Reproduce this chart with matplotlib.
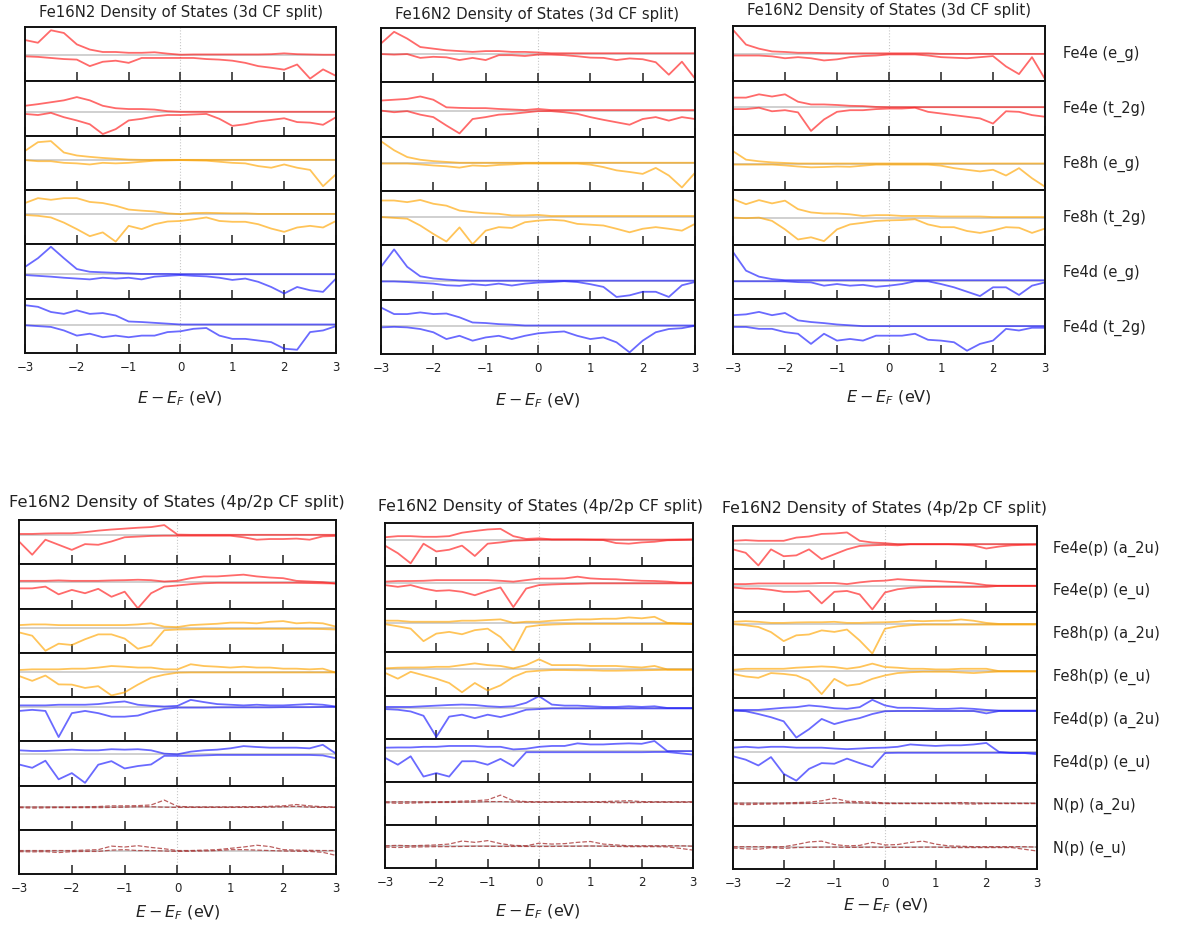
import numpy as np
import matplotlib
matplotlib.use("Agg")
import matplotlib.pyplot as plt

# ---------------- data ----------------
energy = np.linspace(-3, 3, 25)  # E - E_F grid (eV)

top_labels = ["Fe4e (e_g)", "Fe4e (t_2g)", "Fe8h (e_g)", "Fe8h (t_2g)", "Fe4d (e_g)", "Fe4d (t_2g)"]
bot_labels = ["Fe4e(p) (a_2u)", "Fe4e(p) (e_u)", "Fe8h(p) (a_2u)", "Fe8h(p) (e_u)",
              "Fe4d(p) (a_2u)", "Fe4d(p) (e_u)", "N(p) (a_2u)", "N(p) (e_u)"]
top_colors = ["red", "red", "orange", "orange", "blue", "blue"]
bot_colors = ["red", "red", "orange", "orange", "blue", "blue", "brown", "brown"]
title_3d = "Fe16N2 Density of States (3d CF split)"
title_4p = "Fe16N2 Density of States (4p/2p CF split)"

# ---- top-left panel (3d) ----
tl_eg4e_up = [2.8,2.3,4.6,4.1,2.0,1.05,0.6,0.6,0.45,0.45,0.55,0.3,0.1,0.15,0.15,0.15,0.15,0.15,0.15,0.2,0.35,0.2,0.15,0.1,0.1]
tl_eg4e_dn = [-0.2,-0.3,-0.5,-0.7,-0.8,-2.0,-1.2,-1.0,-1.4,-0.5,-0.5,-0.5,-0.5,-0.5,-0.7,-0.8,-1.0,-1.4,-2.0,-2.3,-2.65,-1.7,-4.3,-2.6,-3.8]
tl_t2g4e_up = [1.2,1.5,1.85,2.2,2.8,2.2,1.2,0.75,0.6,0.6,0.5,0.2,0.1,0.1,0.1,0.1,0.1,0.1,0.1,0.1,0.1,0.1,0.1,0.1,0.1]
tl_t2g4e_dn = [-0.3,-0.5,-0.1,-0.9,-1.5,-2.2,-4.0,-3.1,-1.5,-1.2,-0.75,-0.5,-0.5,-0.4,-0.3,-1.2,-2.5,-2.2,-1.7,-1.4,-1.1,-1.8,-1.9,-2.3,-0.9]
tl_eg8h_up = [1.7,3.3,3.5,1.4,0.85,0.6,0.4,0.25,0.1,0.05,0.05,0.05,0.05,0.05,0.05,0.05,0.05,0.05,0.05,0.05,0.05,0.05,0.05,0.05,0.05]
tl_eg8h_dn = [0.0,-0.2,-0.2,-0.5,-0.6,-0.8,-0.5,-0.6,-0.5,-0.3,-0.1,-0.05,0.0,-0.05,-0.1,-0.3,-0.5,-0.6,-1.1,-1.4,-0.8,-1.4,-1.8,-4.8,-2.6]
tl_t2g8h_up = [2.1,3.0,2.7,3.0,3.0,2.3,2.1,1.6,0.9,0.7,0.55,0.2,0.05,0.25,0.3,0.25,0.2,0.2,0.1,0.1,0.1,0.1,0.1,0.1,0.1]
tl_t2g8h_dn = [-0.1,-0.25,-0.55,-1.5,-2.7,-4.0,-3.3,-5.0,-2.1,-2.7,-1.8,-1.3,-1.2,-0.9,-0.55,-1.2,-1.35,-1.35,-1.8,-2.6,-3.2,-2.4,-2.1,-2.4,-1.2]
tl_eg4d_up = [1.4,3.0,5.1,3.0,1.0,0.5,0.4,0.3,0.2,0.1,0.1,0.1,0.05,0.05,0.05,0.05,0.05,0.05,0.05,0.05,0.05,0.05,0.05,0.05,0.05]
tl_eg4d_dn = [-0.1,-0.25,-0.4,-0.6,-0.75,-0.9,-0.6,-0.75,-0.6,-0.9,-0.4,-0.25,-0.1,-0.25,-0.35,-0.6,-1.0,-0.75,-1.35,-2.3,-3.5,-2.3,-2.9,-3.2,-0.75]
tl_t2g4d_up = [3.6,3.3,2.35,2.0,2.65,2.0,2.15,1.7,0.6,0.5,0.35,0.2,0.05,0.05,0.05,0.05,0.05,0.05,0.05,0.05,0.05,0.05,0.05,0.05,0.05]
tl_t2g4d_dn = [-0.1,-0.25,-0.4,-1.05,-2.0,-1.65,-2.3,-2.0,-2.3,-2.0,-2.0,-1.35,-1.2,-0.75,-0.6,-2.0,-2.6,-2.6,-2.9,-3.2,-4.4,-4.6,-1.35,-1.05,-0.25]
tl_zero = [4.8, 4.3, 5.5, 5.5, 4.45, 5.2]

# ---- top-middle panel (3d) ----
tm_eg4e_up = [1.85,4.0,2.75,1.2,0.9,0.6,0.45,0.3,0.45,0.45,0.3,0.3,0.2,0.05,0.05,0.05,0.05,0.05,0.05,0.05,0.05,0.05,0.05,0.05,0.05]
tm_eg4e_dn = [-0.1,-0.2,-0.1,-0.8,-0.6,-0.7,-1.2,-0.8,-1.2,-0.3,-0.3,-0.45,-0.2,-0.2,-0.3,-0.5,-0.75,-0.8,-1.2,-0.9,-1.05,-1.6,-3.9,-1.5,-4.6]
tm_t2g4e_up = [1.85,2.0,2.15,2.6,2.0,0.6,0.5,0.45,0.45,0.3,0.2,0.1,0.3,0.1,0.1,0.1,0.1,0.1,0.1,0.1,0.1,0.1,0.1,0.1,0.1]
tm_t2g4e_dn = [0.0,-0.3,-0.1,-0.75,-1.2,-2.75,-4.2,-1.55,-1.2,-0.75,-0.6,-0.35,-0.1,-0.1,-0.3,-0.6,-1.2,-1.7,-2.15,-2.6,-1.55,-1.2,-1.85,-1.2,-1.55]
tm_eg8h_up = [4.0,2.35,1.1,0.6,0.35,0.2,0.05,0.05,0.05,0.05,0.05,0.05,0.05,0.05,0.05,0.05,0.05,0.05,0.05,0.05,0.05,0.05,0.05,0.05,0.05]
tm_eg8h_dn = [-0.1,-0.1,-0.1,-0.25,-0.45,-0.6,-0.85,-0.45,-0.55,-0.35,-0.25,-0.1,-0.1,-0.1,-0.1,-0.1,-0.3,-0.75,-1.35,-1.65,-2.0,-0.9,-2.3,-4.5,-1.8]
tm_t2g8h_up = [2.95,2.95,2.65,3.05,2.35,2.0,1.1,0.8,0.6,0.5,0.2,0.2,0.3,0.1,0.1,0.1,0.1,0.1,0.1,0.1,0.1,0.1,0.1,0.1,0.1]
tm_t2g8h_dn = [-0.1,-0.25,-0.4,-1.65,-3.2,-4.6,-2.0,-5.1,-2.6,-1.95,-2.1,-1.05,-0.75,-0.6,-0.75,-1.35,-1.5,-1.65,-2.25,-2.9,-2.25,-1.95,-2.25,-2.6,-1.35]
tm_eg4d_up = [2.6,5.8,2.6,0.85,0.45,0.25,0.1,0.05,0.05,0.05,0.05,0.05,0.05,0.05,0.05,0.05,0.05,0.05,0.05,0.05,0.05,0.05,0.05,0.05,0.05]
tm_eg4d_dn = [-0.1,-0.1,-0.2,-0.35,-0.5,-0.8,-0.9,-0.6,-0.8,-0.5,-0.85,-0.5,-0.3,-0.2,-0.05,-0.2,-0.6,-1.1,-2.95,-2.65,-2.0,-2.0,-2.95,-0.8,-0.2]
tm_t2g4d_up = [3.35,2.15,2.15,2.45,2.15,2.25,1.55,0.6,0.5,0.3,0.2,0.05,0.05,0.05,0.05,0.05,0.05,0.05,0.05,0.05,0.05,0.05,0.05,0.05,0.05]
tm_t2g4d_dn = [-0.3,-0.2,-0.3,-0.6,-1.2,-2.45,-1.85,-2.75,-2.15,-1.85,-2.45,-1.85,-1.4,-1.2,-1.05,-1.85,-2.45,-2.15,-3.05,-4.9,-2.75,-1.2,-0.6,-0.45,0.0]
tm_zero = [5.3, 4.8, 5.15, 5.3, 3.45, 5.2]

# ---- top-right panel (3d) ----
tr_eg4e_up = [4.5,1.8,1.05,0.55,0.45,0.3,0.3,0.25,0.2,0.2,0.2,0.2,0.2,0.2,0.2,0.2,0.1,0.1,0.1,0.1,0.1,0.1,0.1,0.1,0.1]
tr_eg4e_dn = [-0.2,-0.2,-0.2,-0.35,-0.7,-0.5,-0.7,-1.1,-0.9,-0.5,-0.3,-0.2,0.0,0.0,0.0,-0.2,-0.5,-0.6,-0.7,-0.5,-0.3,-2.2,-3.6,-0.5,-4.5]
tr_t2g4e_up = [1.8,1.8,2.4,2.0,2.4,1.05,0.55,0.55,0.45,0.3,0.25,0.1,0.05,0.05,0.05,0.05,0.05,0.05,0.05,0.05,0.05,0.05,0.05,0.05,0.05]
tr_t2g4e_dn = [-0.3,-0.3,-0.05,-0.7,-0.5,-0.9,-4.3,-2.2,-0.8,-0.5,-0.5,-0.3,-0.2,-0.2,-0.05,-0.8,-1.1,-1.4,-1.7,-2.0,-2.95,-0.7,-0.8,-1.4,-1.7]
tr_eg8h_up = [2.35,0.8,0.5,0.3,0.2,0.1,0.1,0.1,0.1,0.1,0.1,0.1,0.1,0.1,0.1,0.1,0.1,0.1,0.1,0.1,0.1,0.1,0.1,0.1,0.1]
tr_eg8h_dn = [-0.1,-0.1,-0.1,-0.1,-0.25,-0.45,-0.6,-0.55,-0.45,-0.5,-0.3,-0.1,-0.1,-0.1,-0.1,-0.1,-0.3,-0.75,-1.05,-1.35,-1.05,-2.1,-0.75,-2.6,-4.15]
tr_t2g8h_up = [3.4,2.45,3.2,2.6,3.1,1.55,0.95,0.75,0.75,0.6,0.3,0.45,0.45,0.3,0.3,0.3,0.2,0.2,0.2,0.2,0.1,0.1,0.1,0.1,0.1]
tr_t2g8h_dn = [0.0,-0.1,0.0,-0.6,-2.15,-4.0,-3.6,-4.3,-2.15,-1.25,-0.95,-0.6,-0.5,-0.45,-0.3,-1.25,-1.75,-1.75,-2.45,-2.8,-2.35,-1.75,-1.85,-2.8,-2.0]
tr_eg4d_up = [5.25,1.85,0.75,0.3,0.1,0.1,0.1,0.1,0.1,0.1,0.1,0.1,0.1,0.1,0.1,0.1,0.1,0.1,0.1,0.1,0.1,0.1,0.1,0.1,0.1]
tr_eg4d_dn = [-0.1,-0.1,-0.1,-0.1,-0.1,-0.25,-0.3,-0.9,-0.6,-0.9,-0.75,-1.1,-0.9,-0.6,-0.1,-0.1,-0.6,-1.2,-2.0,-2.8,-1.2,-1.2,-2.6,-0.9,-0.3]
tr_t2g4d_up = [2.05,2.2,2.65,2.05,2.45,1.1,0.8,0.6,0.35,0.2,0.05,0.05,0.05,0.05,0.05,0.05,0.05,0.05,0.05,0.05,0.05,0.05,0.05,0.05,0.05]
tr_t2g4d_dn = [-0.1,-0.1,-0.45,-0.45,-1.05,-1.35,-3.2,-1.35,-2.6,-2.3,-2.6,-1.7,-1.7,-1.7,-1.35,-2.45,-2.6,-2.9,-4.45,-3.2,-2.6,-0.45,-0.75,-0.25,-0.25]
tr_zero = [4.8, 5.1, 4.75, 4.95, 3.4, 5.05]

# ---- bottom-left panel (4p/2p) ----
bl_a2u4e_up = [0.3,0.3,0.4,0.45,0.45,0.7,1.05,1.3,1.5,1.7,1.85,2.3,0.15,0.1,0.1,0.1,0.1,0.1,0.1,0.1,0.1,0.1,0.1,0.1,0.1]
bl_a2u4e_dn = [-1.4,-4.4,-1.0,-2.15,-3.3,-2.0,-2.15,-1.4,-0.45,-0.3,-0.15,-0.1,-0.1,-0.1,-0.1,-0.1,-0.1,-0.45,-1.0,-0.85,-0.85,-0.75,-1.0,-0.25,-0.15]
bl_eu4e_up = [0.3,0.3,0.3,0.4,0.3,0.3,0.3,0.4,0.45,0.55,0.45,0.15,0.3,0.9,1.3,1.3,1.5,1.7,1.3,1.05,0.9,0.3,0.15,0.0,-0.3]
bl_eu4e_dn = [-1.4,-1.4,-1.0,-2.75,-1.75,-2.5,-1.5,-3.3,-2.15,-5.9,-2.5,-1.0,-0.75,-0.45,-0.25,-0.15,-0.15,-0.15,-0.15,-0.15,-0.15,-0.15,-0.2,-0.25,-0.3]
bl_a2u8h_up = [0.6,0.75,0.75,0.6,0.6,0.6,0.6,0.6,0.6,0.75,1.0,0.25,0.15,0.6,0.75,0.9,1.15,1.15,1.0,1.35,1.5,1.0,1.15,1.0,0.25]
bl_a2u8h_dn = [-1.05,-1.8,-5.2,-3.6,-3.9,-2.6,-1.5,-1.5,-2.45,-4.75,-4.0,-0.55,-0.4,-0.35,-0.3,-0.3,-0.25,-0.25,-0.25,-0.25,-0.25,-0.25,-0.25,-0.3,-0.4]
bl_eu8h_up = [0.45,0.6,0.6,0.6,0.75,0.75,1.0,1.35,1.2,1.0,1.0,0.6,0.6,1.75,1.35,1.2,1.0,1.2,1.0,1.0,0.75,0.75,0.6,0.75,-0.15]
bl_eu8h_dn = [-0.9,-2.0,-0.8,-2.8,-2.85,-3.6,-3.2,-5.3,-4.6,-2.85,-1.3,-0.6,-0.15,-0.1,-0.1,-0.1,-0.1,-0.1,-0.1,-0.1,-0.1,-0.1,-0.1,-0.1,-0.1]
bl_a2u4d_up = [0.25,0.25,0.25,0.4,0.4,0.4,0.55,0.9,1.15,0.4,0.15,0.0,0.15,1.5,1.0,0.55,0.4,0.25,0.4,0.25,0.25,0.4,0.55,0.4,0.0]
bl_a2u4d_dn = [-1.0,-0.75,-1.0,-6.9,-1.5,-1.0,-1.5,-2.3,-2.3,-2.05,-1.15,-0.55,-0.25,-0.25,-0.25,-0.2,-0.2,-0.2,-0.2,-0.2,-0.15,-0.15,-0.15,-0.1,-0.1]
bl_eu4d_up = [0.75,0.6,0.6,0.75,0.9,0.75,0.75,1.0,0.9,1.0,0.75,0.0,-0.15,0.45,0.75,0.9,1.2,1.7,1.5,1.35,1.35,1.35,1.2,2.0,0.0]
bl_eu4d_dn = [-2.45,-3.2,-1.6,-5.8,-4.4,-6.6,-2.5,-1.7,-3.35,-2.8,-2.45,-0.5,-0.5,-0.5,-0.4,-0.3,-0.3,-0.3,-0.3,-0.3,-0.3,-0.3,-0.3,-0.4,-1.05]
bl_a2uN_up = [0.05,0.05,0.05,0.05,0.05,0.1,0.15,0.3,0.3,0.35,0.5,1.6,0.2,0.05,0.05,0.05,0.05,0.1,0.1,0.2,0.3,0.6,0.3,0.1,0.05]
bl_a2uN_dn = [-0.1,-0.2,-0.15,-0.1,-0.1,-0.1,-0.1,-0.05,0.0,0.1,0.1,0.0,-0.05,-0.05,-0.05,-0.05,-0.05,-0.05,-0.05,0.0,0.1,0.2,0.0,-0.05,-0.05]
bl_euN_up = [0.1,0.1,0.1,0.1,0.1,0.2,0.3,1.1,0.9,1.2,0.8,0.5,0.1,0.1,0.2,0.3,0.6,0.9,1.3,1.0,0.3,0.2,0.15,0.1,0.1]
bl_euN_dn = [-0.15,-0.2,-0.15,-0.35,-0.15,-0.1,-0.1,0.2,0.3,0.1,0.1,0.0,-0.1,-0.05,0.0,0.1,0.3,0.3,0.2,0.1,0.0,-0.05,-0.1,-0.3,-1.0]
bl_zero = [6.55, 5.95, 5.65, 5.65, 7.85, 7.2, 5.1, 5.2]

# ---- bottom-middle panel (4p/2p) ----
bm_a2u4e_up = [0.55,0.8,0.8,0.65,0.65,0.8,1.6,2.0,2.35,2.5,0.8,0.15,0.3,0.05,0.05,0.05,0.05,0.05,0.0,0.0,0.0,0.0,0.0,0.05,0.05]
bm_a2u4e_dn = [-1.4,-3.15,-5.5,-0.95,-2.75,-2.35,-1.4,-3.8,-0.95,-0.65,-0.25,-0.15,0.0,0.0,0.0,0.0,-0.05,-0.1,-0.8,-0.95,-0.65,-0.5,-0.15,-0.1,0.0]
bm_eu4e_up = [0.25,0.4,0.4,0.45,0.6,0.6,0.6,0.6,0.6,0.45,0.25,0.6,0.95,0.95,1.0,1.4,1.0,0.85,0.8,0.6,0.45,0.4,0.25,0.0,0.0]
bm_eu4e_dn = [-0.55,-0.95,-0.55,-1.35,-1.9,-1.75,-2.1,-2.9,-1.9,-1.1,-5.65,-1.35,-0.55,-0.4,-0.3,-0.25,-0.15,-0.15,-0.15,-0.15,-0.15,-0.15,-0.15,-0.15,-0.15]
bm_a2u8h_up = [0.65,0.65,0.4,0.4,0.4,0.4,0.65,0.65,0.8,0.95,0.15,0.4,0.4,0.65,0.8,0.95,0.95,1.1,1.1,1.4,1.2,1.55,0.15,0.0,-0.15]
bm_a2u8h_dn = [-0.15,-0.65,-1.2,-4.1,-2.35,-1.95,-2.5,-1.55,-1.2,-3.15,-6.4,-0.8,-0.4,-0.25,-0.15,-0.1,-0.1,-0.1,-0.1,-0.1,-0.1,-0.1,-0.1,-0.1,-0.1]
bm_eu8h_up = [0.25,0.4,0.45,0.45,0.6,0.6,1.0,1.4,1.0,0.8,0.25,1.0,2.35,1.0,1.0,1.0,0.8,0.8,0.8,0.6,0.45,0.8,0.0,0.0,0.0]
bm_eu8h_dn = [-0.8,-2.15,-0.55,-1.35,-2.15,-3.15,-5.3,-3.15,-4.9,-3.7,-1.75,-0.55,-0.3,-0.15,-0.15,-0.2,-0.2,-0.3,-0.3,-0.25,-0.2,-0.15,-0.1,-0.1,-0.1]
bm_a2u4d_up = [0.25,0.25,0.25,0.4,0.55,0.7,0.8,0.7,0.4,0.25,0.4,1.2,2.75,0.8,0.55,0.55,0.4,0.25,0.25,0.4,0.25,0.4,0.0,0.0,0.0]
bm_a2u4d_dn = [-0.25,-0.4,-0.8,-1.8,-6.7,-2.0,-1.55,-2.35,-1.55,-2.1,-1.35,-0.4,-0.25,-0.1,-0.1,-0.1,-0.1,-0.1,-0.1,-0.1,-0.1,-0.1,-0.1,-0.1,-0.1]
bm_eu4d_up = [0.8,0.85,0.85,1.0,1.0,1.2,1.2,1.2,1.0,1.0,0.4,0.55,1.0,1.2,1.2,1.8,1.55,1.55,1.7,1.8,1.7,2.35,0.0,0.0,0.0]
bm_eu4d_dn = [-1.55,-3.15,-1.2,-5.9,-5.1,-5.9,-2.35,-2.35,-3.15,-1.8,-3.5,-0.25,-0.25,-0.25,-0.25,-0.25,-0.25,-0.25,-0.25,-0.25,-0.25,-0.2,-0.2,-0.5,-0.8]
bm_a2uN_up = [0.05,0.05,0.05,0.05,0.05,0.1,0.2,0.3,0.5,1.6,0.3,0.1,0.05,0.05,0.05,0.05,0.05,0.1,0.2,0.3,0.1,0.05,0.05,0.05,0.05]
bm_a2uN_dn = [-0.15,-0.3,-0.25,-0.15,-0.1,-0.1,-0.05,0.0,0.1,0.1,0.0,-0.05,-0.05,-0.05,-0.05,-0.05,-0.05,-0.1,-0.15,-0.15,-0.1,-0.05,-0.05,-0.05,-0.05]
bm_euN_up = [0.1,0.2,0.1,0.2,0.3,0.5,1.2,0.9,1.3,0.6,0.2,0.1,0.7,0.5,0.6,0.9,1.1,0.5,0.3,0.1,0.1,0.1,0.1,0.1,0.0]
bm_euN_dn = [-0.2,-0.3,-0.2,-0.15,-0.1,-0.1,-0.05,0.0,0.0,-0.05,-0.05,-0.05,-0.05,-0.05,0.0,0.0,0.05,0.0,-0.05,-0.1,-0.1,-0.1,-0.15,-0.5,-0.9]
bm_zero = [6.15, 6.15, 6.7, 6.05, 7.1, 7.1, 5.3, 5.05]

# ---- bottom-right panel (4p/2p) ----
br_a2u4e_up = [0.8,0.95,0.8,0.8,0.8,1.55,1.8,2.4,2.5,2.75,0.8,0.4,0.25,0.0,0.0,0.0,0.0,0.0,0.0,0.0,0.0,0.0,0.0,0.0,0.0]
br_a2u4e_dn = [-1.2,-2.0,-4.95,-1.2,-2.8,-2.6,-1.2,-3.5,-2.35,-1.2,-0.4,-0.25,-0.15,-0.25,0.0,0.0,0.0,0.0,-0.1,-0.3,-1.0,-0.55,-0.25,-0.15,-0.1]
br_eu4e_up = [0.4,0.4,0.55,0.55,0.55,0.55,0.55,0.65,0.65,0.4,0.8,1.1,1.2,1.55,1.35,1.2,1.1,0.95,0.8,0.55,0.15,0.0,0.0,0.0,0.0]
br_eu4e_dn = [-0.4,-0.65,-0.65,-0.95,-1.4,-1.4,-1.2,-4.1,-1.4,-1.2,-2.0,-5.5,-1.55,-0.8,-0.45,-0.3,-0.25,-0.25,-0.25,-0.25,-0.25,0.0,0.0,0.0,0.0]
br_a2u8h_up = [0.4,0.55,0.4,0.15,0.15,0.25,0.3,0.3,0.4,0.15,0.15,0.25,0.3,0.4,0.65,0.55,0.65,0.65,0.95,0.65,0.15,-0.1,-0.1,-0.1,-0.1]
br_a2u8h_dn = [-0.15,-0.4,-0.8,-2.0,-4.1,-2.75,-2.55,-1.6,-1.95,-1.4,-3.95,-7.0,-1.2,-0.65,-0.4,-0.25,-0.25,-0.25,-0.25,-0.25,-0.25,-0.25,-0.25,-0.25,-0.25]
br_eu8h_up = [0.3,0.55,0.55,0.55,0.55,0.8,0.95,1.1,0.95,0.55,0.95,1.75,0.95,0.8,0.55,0.55,0.4,0.4,0.55,0.55,0.55,0.0,0.0,0.0,0.0]
br_eu8h_dn = [-0.65,-1.25,-1.55,-0.45,-0.65,-1.0,-2.2,-5.35,-1.8,-3.4,-3.0,-1.8,-1.0,-0.45,-0.25,-0.15,-0.15,-0.15,-0.3,-0.45,-0.25,-0.1,-0.1,-0.1,-0.1]
br_a2u4d_up = [0.15,0.15,0.15,0.4,0.65,0.8,1.2,0.95,0.55,0.4,0.8,2.5,1.2,0.65,0.65,0.55,0.4,0.4,0.55,0.4,0.15,0.0,0.0,0.0,0.0]
br_a2u4d_dn = [0.0,-0.15,-0.8,-1.55,-2.5,-6.3,-4.35,-1.95,-3.15,-2.35,-1.75,-0.8,-0.15,-0.1,-0.1,-0.1,-0.1,-0.1,-0.1,-0.1,-0.65,-0.1,-0.1,-0.1,-0.1]
br_eu4d_up = [1.0,1.2,1.0,1.2,1.2,1.0,1.0,1.0,0.8,0.65,0.8,0.95,1.0,1.2,1.75,1.55,1.4,1.55,1.55,1.75,2.1,0.0,-0.25,-0.25,-0.55]
br_eu4d_dn = [-1.0,-1.8,-3.15,-1.2,-5.1,-6.7,-3.95,-2.6,-2.75,-1.55,-2.6,-3.55,-0.25,-0.2,-0.2,-0.2,-0.2,-0.2,-0.2,-0.2,-0.2,-0.2,-0.2,-0.2,-0.2]
br_a2uN_up = [0.05,0.05,0.05,0.05,0.1,0.2,0.3,0.6,1.2,0.5,0.4,0.3,0.1,0.05,0.05,0.05,0.05,0.1,0.2,0.1,0.05,0.05,0.05,0.05,0.05]
br_a2uN_dn = [-0.15,-0.3,-0.2,-0.15,-0.1,-0.05,0.0,0.0,0.1,0.2,0.1,0.0,-0.05,-0.05,-0.05,-0.05,-0.05,-0.05,-0.1,-0.15,-0.05,-0.05,-0.05,-0.05,-0.05]
br_euN_up = [0.1,0.1,0.1,0.1,0.1,0.6,1.2,1.4,0.6,0.3,0.4,1.1,0.5,0.6,1.1,1.4,0.7,0.3,0.2,0.1,0.1,0.1,0.1,0.1,0.0]
br_euN_dn = [-0.2,-0.4,-0.5,-0.1,-0.3,-0.1,-0.05,0.0,0.0,-0.05,-0.05,0.0,-0.05,-0.05,-0.05,0.0,0.0,-0.1,-0.1,-0.1,-0.1,-0.1,-0.1,-0.5,-0.9]
br_zero = [5.75, 6.05, 7.25, 6.15, 6.95, 7.3, 5.3, 5.1]

# ---------------- assemble ----------------
tl_curves = [(tl_eg4e_up, tl_eg4e_dn), (tl_t2g4e_up, tl_t2g4e_dn), (tl_eg8h_up, tl_eg8h_dn),
             (tl_t2g8h_up, tl_t2g8h_dn), (tl_eg4d_up, tl_eg4d_dn), (tl_t2g4d_up, tl_t2g4d_dn)]
tm_curves = [(tm_eg4e_up, tm_eg4e_dn), (tm_t2g4e_up, tm_t2g4e_dn), (tm_eg8h_up, tm_eg8h_dn),
             (tm_t2g8h_up, tm_t2g8h_dn), (tm_eg4d_up, tm_eg4d_dn), (tm_t2g4d_up, tm_t2g4d_dn)]
tr_curves = [(tr_eg4e_up, tr_eg4e_dn), (tr_t2g4e_up, tr_t2g4e_dn), (tr_eg8h_up, tr_eg8h_dn),
             (tr_t2g8h_up, tr_t2g8h_dn), (tr_eg4d_up, tr_eg4d_dn), (tr_t2g4d_up, tr_t2g4d_dn)]
bl_curves = [(bl_a2u4e_up, bl_a2u4e_dn), (bl_eu4e_up, bl_eu4e_dn), (bl_a2u8h_up, bl_a2u8h_dn),
             (bl_eu8h_up, bl_eu8h_dn), (bl_a2u4d_up, bl_a2u4d_dn), (bl_eu4d_up, bl_eu4d_dn),
             (bl_a2uN_up, bl_a2uN_dn), (bl_euN_up, bl_euN_dn)]
bm_curves = [(bm_a2u4e_up, bm_a2u4e_dn), (bm_eu4e_up, bm_eu4e_dn), (bm_a2u8h_up, bm_a2u8h_dn),
             (bm_eu8h_up, bm_eu8h_dn), (bm_a2u4d_up, bm_a2u4d_dn), (bm_eu4d_up, bm_eu4d_dn),
             (bm_a2uN_up, bm_a2uN_dn), (bm_euN_up, bm_euN_dn)]
br_curves = [(br_a2u4e_up, br_a2u4e_dn), (br_eu4e_up, br_eu4e_dn), (br_a2u8h_up, br_a2u8h_dn),
             (br_eu8h_up, br_eu8h_dn), (br_a2u4d_up, br_a2u4d_dn), (br_eu4d_up, br_eu4d_dn),
             (br_a2uN_up, br_a2uN_dn), (br_euN_up, br_euN_dn)]

W, H = 1182, 937
fig = plt.figure(figsize=(W / 100, H / 100), dpi=100)
fig.patch.set_facecolor("white")

COLORS = {"red": "#ff1a1a", "orange": "#ffa500", "blue": "#1a1aff", "brown": "#a52a2a"}


def draw_panel(box, curves, zeros, colors, title, title_xy, title_size, xlabel_xy, labels=None, label_x=None):
    x0, x1, ytop, ybot = box
    n = len(curves)
    h = (ybot - ytop) / n
    axes = []
    for i, ((up, dn), z, c) in enumerate(zip(curves, zeros, colors)):
        top = ytop + i * h
        ax = fig.add_axes([x0 / W, 1 - (top + h) / H, (x1 - x0) / W, h / H])
        ax.axhline(0, color="#c8c8c8", lw=1.2, zorder=1)
        ax.axvline(0, color="#c8c8c8", lw=0.8, ls=":", zorder=1)
        col = COLORS[c]
        if c == "brown":
            ax.plot(energy, up, color=col, lw=0.9, ls="--", alpha=0.75, zorder=2)
            ax.plot(energy, dn, color=col, lw=0.9, ls="--", alpha=0.75, zorder=2)
        else:
            ax.plot(energy, up, color=col, lw=1.3, alpha=0.65, zorder=2)
            ax.plot(energy, dn, color=col, lw=1.3, alpha=0.65, zorder=2)
        ax.set_xlim(-3, 3)
        ax.set_ylim(-z, 10 - z)
        ax.set_yticks([])
        ax.set_xticks([-3, -2, -1, 0, 1, 2, 3])
        ax.tick_params(axis="x", direction="in", length=6.5, width=1.1, top=False,
                       labelsize=8.5, colors="#222222", pad=5)
        if i < n - 1:
            ax.tick_params(axis="x", labelbottom=False)
        for s in ax.spines.values():
            s.set_linewidth(1.4)
            s.set_color("#111111")
        if labels is not None:
            fig.text(label_x / W, 1 - (top + h / 2) / H, labels[i], fontsize=10.5,
                     ha="left", va="center", color="#222222")
        axes.append(ax)
    fig.text(title_xy[0] / W, 1 - title_xy[1] / H, title, fontsize=title_size,
             ha="center", va="center", color="#222222")
    fig.text(xlabel_xy[0] / W, 1 - xlabel_xy[1] / H, r"$E - E_F$ (eV)", fontsize=11.5,
             ha="center", va="center", color="#222222")
    return axes


draw_panel((25, 336, 28, 354), tl_curves, tl_zero, top_colors, title_3d, (181, 12), 10.7, (180, 399))
draw_panel((381, 695, 29, 355), tm_curves, tm_zero, top_colors, title_3d, (537, 14), 10.7, (538, 401))
draw_panel((733, 1045, 27, 355), tr_curves, tr_zero, top_colors, title_3d, (889, 10), 10.7, (889, 398),
           labels=top_labels, label_x=1063)
draw_panel((19, 336, 521, 875), bl_curves, bl_zero, bot_colors, title_4p, (177, 503), 11.7, (178, 913))
draw_panel((385, 693, 524, 869), bm_curves, bm_zero, bot_colors, title_4p, (540, 507), 11.3, (538, 912))
draw_panel((733, 1037, 527, 870), br_curves, br_zero, bot_colors, title_4p, (885, 509), 11.3, (886, 906),
           labels=bot_labels, label_x=1053)

fig.savefig("out.png", dpi=100, facecolor="white")
